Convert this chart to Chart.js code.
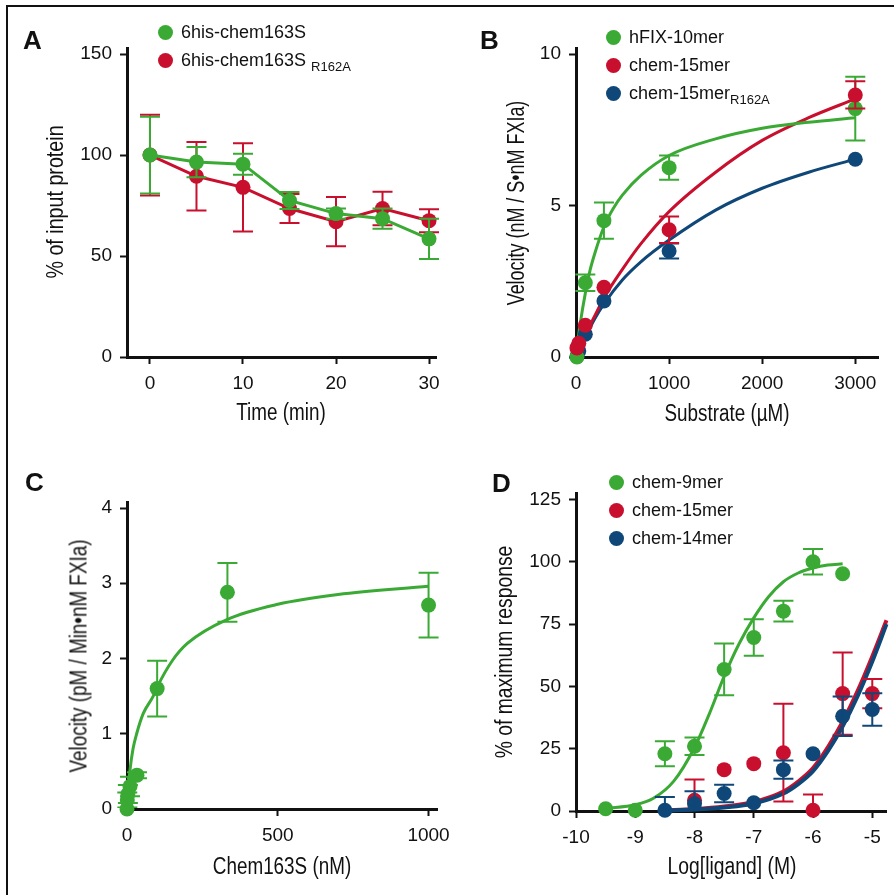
<!DOCTYPE html>
<html>
<head>
<meta charset="utf-8">
<title>chem163S panels</title>
<script src="https://cdn.jsdelivr.net/npm/chart.js@4.4.0/dist/chart.umd.min.js"></script>
<style>
  body { margin: 0; background: #fff; }
  #fig { position: relative; width: 894px; height: 895px; overflow: hidden; font-family: 'Liberation Sans', Arial, sans-serif; color: #111; }
  #frame { position: absolute; left: 6px; top: 5px; width: 1000px; height: 1000px; border-left: 2px solid #111; border-top: 2px solid #111; }
  canvas { position: absolute; }
  .letter { position: absolute; font-weight: bold; font-size: 26px; line-height: 26px; }
  .li { position: absolute; height: 22px; display: flex; align-items: center; font-size: 18px; line-height: 22px; white-space: nowrap; }
  .dot { width: 15px; height: 15px; border-radius: 50%; margin-right: 8px; }
  .li sub { font-size: 13px; line-height: 0; vertical-align: -5px; }
  /* axis titles: the original face is condensed, so squeeze a regular one */
  .ttl { position: absolute; white-space: nowrap; line-height: 1; font-size: 23px; }
</style>
</head>
<body>
<div id="fig">
  <div id="frame"></div>
  <canvas id="chartA" width="447" height="440" style="left:0;top:0"></canvas>
  <canvas id="chartB" width="447" height="440" style="left:447px;top:0"></canvas>
  <canvas id="chartC" width="460" height="455" style="left:0;top:440px"></canvas>
  <canvas id="chartD" width="447" height="455" style="left:447px;top:440px"></canvas>

  <div class="letter" style="left:23px;top:27px">A</div>
  <div class="letter" style="left:480px;top:27px">B</div>
  <div class="letter" style="left:25px;top:469px">C</div>
  <div class="letter" style="left:492px;top:470px">D</div>

  <div class="ttl" style="left:55px;top:202px;font-size:24px;transform:translate(-50%,-50%) rotate(-90deg) scaleX(.82)">% of input protein</div>
  <div class="ttl" style="left:281px;top:412px;transform:translate(-50%,-50%) scaleX(.82)">Time (min)</div>
  <div class="ttl" style="left:516px;top:203px;transform:translate(-50%,-50%) rotate(-90deg) scaleX(.78)">Velocity (nM / S&bull;nM FXIa)</div>
  <div class="ttl" style="left:727px;top:413px;transform:translate(-50%,-50%) scaleX(.82)">Substrate (&micro;M)</div>
  <div class="ttl" style="left:79px;top:656px;transform:translate(-50%,-50%) rotate(-90deg) scaleX(.82)">Velocity (pM / Min&bull;nM FXIa)</div>
  <div class="ttl" style="left:282px;top:866px;transform:translate(-50%,-50%) scaleX(.82)">Chem163S (nM)</div>
  <div class="ttl" style="left:504px;top:652px;transform:translate(-50%,-50%) rotate(-90deg) scaleX(.84)">% of maximum response</div>
  <div class="ttl" style="left:732px;top:866px;transform:translate(-50%,-50%) scaleX(.84)">Log[ligand] (M)</div>

  <div class="li" style="left:158px;top:21px"><span class="dot" style="background:#3aaa35"></span><span>6his-chem163S</span></div>
  <div class="li" style="left:158px;top:49px"><span class="dot" style="background:#c8102e"></span><span>6his-chem163S&nbsp;<sub>R162A</sub></span></div>

  <div class="li" style="left:606px;top:26px"><span class="dot" style="background:#3aaa35"></span><span>hFIX-10mer</span></div>
  <div class="li" style="left:606px;top:54px"><span class="dot" style="background:#c8102e"></span><span>chem-15mer</span></div>
  <div class="li" style="left:606px;top:82px"><span class="dot" style="background:#0f4778"></span><span>chem-15mer<sub>R162A</sub></span></div>

  <div class="li" style="left:609px;top:471px"><span class="dot" style="background:#3aaa35"></span><span>chem-9mer</span></div>
  <div class="li" style="left:609px;top:499px"><span class="dot" style="background:#c8102e"></span><span>chem-15mer</span></div>
  <div class="li" style="left:609px;top:527px"><span class="dot" style="background:#0f4778"></span><span>chem-14mer</span></div>
</div>

<script>
const GREEN = '#3aaa35', RED = '#c8102e', BLUE = '#0f4778';

// A: % of input protein left over time
const aTime = [0, 5, 10, 15, 20, 25, 30];
const aWild = [100, 96.5, 95.5, 77.5, 71, 68.5, 58.5];
const aWildErr = [19, 7.5, 5.2, 4.2, 2.5, 5, 10];
const aMut = [100, 89.5, 84, 73.5, 67, 73.5, 67.5];
const aMutErr = [20, 17, 21.8, 7.2, 12.2, 8.3, 5.7];
const aTicksX = [0, 10, 20, 30];
const aTicksY = [0, 50, 100, 150];

// B: velocity vs substrate, points + fitted curves
const bGreenX = [10, 100, 300, 1000, 3000];
const bGreen = [0, 2.45, 4.5, 6.25, 8.2];
const bGreenErr = [0, 0.27, 0.6, 0.4, 1.05];
const bRedX = [10, 30, 100, 300, 1000, 3000];
const bRed = [0.3, 0.45, 1.05, 2.3, 4.2, 8.65];
const bRedErr = [0, 0, 0, 0, 0.44, 0.45];
const bBlueX = [10, 30, 100, 300, 1000, 3000];
const bBlue = [0.02, 0.2, 0.75, 1.85, 3.5, 6.53];
const bBlueErr = [0, 0, 0, 0, 0.25, 0];
const bFitGreenX = [0, 25, 50, 100, 150, 200, 300, 400, 500, 700, 1000, 1500, 2000, 2500, 3000];
const bFitGreen = [0, 0.65, 1.2, 2.1, 2.85, 3.4, 4.3, 4.9, 5.35, 6.0, 6.65, 7.2, 7.55, 7.75, 7.9];
const bFitX = [0, 100, 200, 300, 500, 700, 1000, 1500, 2000, 2500, 3000];
const bFitRed = [0, 0.72, 1.35, 1.95, 2.9, 3.75, 4.8, 6.1, 7.15, 7.9, 8.52];
const bFitBlue = [0, 0.65, 1.25, 1.75, 2.55, 3.15, 3.86, 4.85, 5.57, 6.1, 6.53];
const bTicksX = [0, 1000, 2000, 3000];
const bTicksY = [0, 5, 10];

// C: velocity vs Chem163S
const cX = [0, 1, 3, 10, 33, 100, 333, 1000];
const cY = [0, 0.12, 0.2, 0.3, 0.45, 1.6, 2.88, 2.71];
const cErr = [0, 0.1, 0.12, 0.13, 0.04, 0.37, 0.39, 0.43];
const cFitX = [0, 5, 10, 20, 32, 54, 87, 100, 150, 200, 333, 500, 700, 1000];
const cFit = [0, 0.3, 0.52, 0.8, 1.0, 1.27, 1.5, 1.62, 1.97, 2.2, 2.52, 2.72, 2.85, 2.96];
const cTicksX = [0, 500, 1000];
const cTicksY = [0, 1, 2, 3, 4];

// D: dose response, log[ligand]
const dGreenX = [-9.5, -9, -8.5, -8, -7.5, -7, -6.5, -6, -5.5];
const dGreen = [0.9, 0.3, 23, 26, 56.8, 69.6, 80.2, 100, 95.2];
const dGreenErr = [0, 0, 5, 3.5, 10.4, 7.3, 4.2, 5.1, 0];
const dRedX = [-8, -7.5, -7, -6.5, -6, -5.5, -5];
const dRed = [4.3, 16.6, 19, 23.4, 0.3, 47.1, 47.1];
const dRedErr = [8.3, 0, 0, 19.6, 6.3, 16.5, 5.9];
const dBlueX = [-8.5, -8, -7.5, -7, -6.5, -6, -5.5, -5];
const dBlue = [0.3, 2.9, 7, 3.3, 16.6, 23, 38, 40.7];
const dBlueErr = [5.3, 5, 3.5, 0, 3.7, 0, 7.9, 6.5];
const dFitGreenX = [-9.5, -9, -8.7, -8.35, -8, -7.75, -7.5, -7.25, -7, -6.75, -6.5, -6.25, -6, -5.75, -5.5];
const dFitGreen = [1.0, 2.5, 5.0, 12, 25.5, 39, 54, 67, 77.5, 86, 92, 95.5, 97.5, 98.7, 99.2];
const dFitX = [-8.5, -8, -7.5, -7, -6.5, -6.25, -6, -5.75, -5.5, -5.25, -5, -4.76];
const dFitRed = [0.3, 0.8, 1.8, 3.6, 7.8, 11.8, 17.2, 25.5, 35.8, 48, 62, 76.5];
const dFitBlue = [0.2, 0.6, 1.4, 3.0, 7.0, 10.8, 16, 24, 34, 46, 60, 75];
const dTicksX = [-10, -9, -8, -7, -6, -5];
const dTicksY = [0, 25, 50, 75, 100, 125];


// error bars, drawn right after their own dataset
const errorBars = {
  id: 'errorBars',
  afterDatasetDraw(chart, args) {
    const ds = chart.data.datasets[args.index];
    if (!ds.err) return;
    const { ctx, chartArea, scales } = chart;
    ctx.save();
    ctx.beginPath();
    ctx.rect(0, 0, chart.width, chartArea.bottom - 1);
    ctx.clip();
    ctx.strokeStyle = ds.borderColor;
    ctx.lineWidth = 2;
    ds.data.forEach((p, i) => {
      const e = ds.err[i];
      if (!e) return;
      const px = scales.x.getPixelForValue(p.x);
      const hi = scales.y.getPixelForValue(p.y + e);
      const lo = scales.y.getPixelForValue(p.y - e);
      ctx.beginPath();
      ctx.moveTo(px, hi); ctx.lineTo(px, lo);
      ctx.moveTo(px - 10, hi); ctx.lineTo(px + 10, hi);
      ctx.moveTo(px - 10, lo); ctx.lineTo(px + 10, lo);
      ctx.stroke();
    });
    ctx.restore();
  }
};

const pts = (xs, ys) => xs.map((x, i) => ({ x: x, y: ys[i] }));

const dots = (xs, ys, err, color) => ({
  data: pts(xs, ys), err: err, showLine: false, clip: false,
  pointRadius: 7.5, pointBackgroundColor: color, pointBorderWidth: 0, borderColor: color
});

const curve = (xs, ys, color, width) => ({
  data: pts(xs, ys), showLine: true, clip: false, pointRadius: 0,
  borderColor: color, borderWidth: width || 3, cubicInterpolationMode: 'monotone'
});

const tickFont = { family: "'Liberation Sans', Arial, sans-serif", size: 19 };

// titles are html (see .ttl), the scale box sizes are pinned here
function axis(min, max, ticks, size, horizontal) {
  return {
    type: 'linear', min: min, max: max,
    afterBuildTicks: s => { s.ticks = ticks.map(v => ({ value: v })); },
    afterFit: s => {
      if (horizontal) s.height = size; else s.width = size;
      s.paddingLeft = s.paddingRight = s.paddingTop = s.paddingBottom = 0;
    },
    border: { color: '#111', width: 3 },
    grid: { drawOnChartArea: false, tickLength: 7, tickWidth: 2, tickColor: '#111' },
    ticks: { color: '#111', font: tickFont, padding: 8, maxRotation: 0, autoSkip: false, callback: v => String(v) }
  };
}

function panel(id, pad, xAxis, yAxis, datasets) {
  new Chart(document.getElementById(id), {
    type: 'scatter',
    data: { datasets: datasets },
    options: {
      responsive: false, animation: false, events: [],
      layout: { padding: pad },
      plugins: { legend: { display: false }, tooltip: { enabled: false } },
      scales: { x: xAxis, y: yAxis }
    },
    plugins: [errorBars]
  });
}

// A
const lineDots = (xs, ys, err, color) => Object.assign(dots(xs, ys, err, color), { showLine: true, borderWidth: 3 });
panel('chartA', { left: 43, right: 11, top: 48, bottom: 13 },
  axis(-2.47, 30.75, aTicksX, 70, true),
  axis(0, 153, aTicksY, 84, false),
  [lineDots(aTime, aWild, aWildErr, GREEN), lineDots(aTime, aMut, aMutErr, RED)]);

// B
panel('chartB', { left: 59, right: 16, top: 48, bottom: 11 },
  axis(0, 3244, bTicksX, 72, true),
  axis(0, 10.2, bTicksY, 70, false),
  [dots(bRedX, bRed, bRedErr, RED), dots(bGreenX, bGreen, bGreenErr, GREEN), dots(bBlueX, bBlue, bBlueErr, BLUE),
   curve(bFitGreenX, bFitGreen, GREEN), curve(bFitX, bFitRed, RED), curve(bFitX, bFitBlue, BLUE)]);

// C
panel('chartC', { left: 66, right: 23, top: 62, bottom: 13 },
  axis(0, 1028, cTicksX, 73, true),
  axis(0, 4.08, cTicksY, 61, false),
  [dots(cX, cY, cErr, GREEN), curve(cFitX, cFit, GREEN)]);

// D
panel('chartD', { left: 48, right: 7, top: 53, bottom: 13 },
  axis(-10, -4.76, dTicksX, 71, true),
  axis(0, 127.6, dTicksY, 81, false),
  [dots(dGreenX, dGreen, dGreenErr, GREEN), dots(dBlueX, dBlue, dBlueErr, BLUE), dots(dRedX, dRed, dRedErr, RED),
   curve(dFitGreenX, dFitGreen, GREEN), curve(dFitX, dFitBlue, BLUE, 4), curve(dFitX, dFitRed, RED, 4)]);
</script>
</body>
</html>
